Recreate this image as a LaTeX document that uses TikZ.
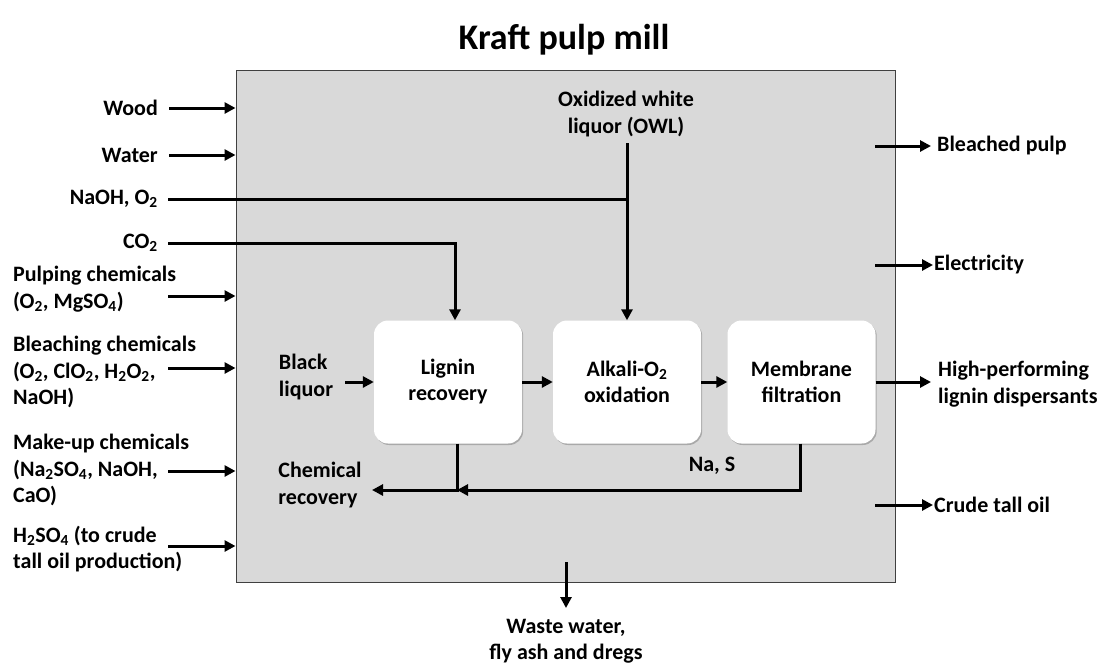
\documentclass[tikz,border=0pt]{standalone}
\usepackage{fontspec}
\setmainfont{Carlito}
\usetikzlibrary{arrows.meta,shadows}
\newcommand{\chemsub}[1]{\textsubscript{#1}}

\begin{document}
\begin{tikzpicture}[x=1pt,y=-1pt,
  lbl/.style={font=\bfseries\fontsize{22}{26.5}\selectfont, inner sep=0pt, align=left},
  arr/.style={line width=3pt, -{Triangle[length=11pt,width=11pt]}},
  flow/.style={line width=3pt},
  unit/.style={fill=white, rounded corners=14pt, minimum width=148pt, minimum height=123pt,
               inner sep=0pt, align=center, font=\bfseries\fontsize{22}{26}\selectfont,
               drop shadow={shadow xshift=1.2pt, shadow yshift=-1.5pt, opacity=0.22, fill=black}},
]
\useasboundingbox (0,0) rectangle (1100,664);

% title and mill boundary
\node[font=\bfseries\fontsize{36}{42}\selectfont, inner sep=0pt] (title) at (564,40) {Kraft pulp mill};
\node[draw=black!75, line width=1pt, fill=gray!30, minimum width=659pt, minimum height=512pt,
      inner sep=0pt] (mill) at (565.5,326) {};

% process units
\node[unit] (lignin)   at (448,382) {Lignin\\recovery};
\node[unit] (alkali)   at (627,382) {Alkali-O\chemsub{2}\\oxidation};
\node[unit] (membrane) at (801.5,382) {Membrane\\filtration};

% inputs on the left
\node[lbl, anchor=east] (wood)  at (158,108) {Wood};
\node[lbl, anchor=east] (water) at (158,155) {Water};
\node[lbl, anchor=east] (naoh)  at (158,199) {NaOH, O\chemsub{2}};
\node[lbl, anchor=east] (co2)   at (158,243) {CO\chemsub{2}};
\node[lbl, anchor=west] (pulping) at (13,289) {Pulping chemicals\\(O\chemsub{2}, MgSO\chemsub{4})};
\node[lbl, anchor=west] (bleach)  at (13,372) {Bleaching chemicals\\(O\chemsub{2}, ClO\chemsub{2}, H\chemsub{2}O\chemsub{2},\\NaOH)};
\node[lbl, anchor=west] (makeup)  at (13,470) {Make-up chemicals\\(Na\chemsub{2}SO\chemsub{4}, NaOH,\\CaO)};
\node[lbl, anchor=west] (h2so4)   at (13,549) {H\chemsub{2}SO\chemsub{4} (to crude\\tall oil production)};

\coordinate (pulpingin) at (168,296);
\coordinate (bleachin)  at (168,368);
\coordinate (makeupin)  at (168,471);
\coordinate (h2so4in)   at (168,546);

\draw[arr] ([xshift=11pt]wood.east)  -- (wood.east -| mill.west);
\draw[arr] ([xshift=11pt]water.east) -- (water.east -| mill.west);
\draw[arr] (pulpingin) -- (pulpingin -| mill.west);
\draw[arr] (bleachin)  -- (bleachin -| mill.west);
\draw[arr] (makeupin)  -- (makeupin -| mill.west);
\draw[arr] (h2so4in)   -- (h2so4in -| mill.west);

% oxidized white liquor and oxygen feed to the oxidation step
\node[lbl, align=center] (owl) at (626,114) {Oxidized white\\liquor (OWL)};
\draw[arr] (alkali.north |- 0,143) -- (alkali.north);
\draw[flow] ([xshift=10pt]naoh.east) -- (naoh.east -| alkali.north);

% CO2 feed to lignin recovery
\coordinate (co2in) at ([xshift=7pt]lignin.north);
\draw[arr] ([xshift=10pt]co2.east) -| (co2in);

% black liquor feed
\node[lbl] (black) at (306,377) {Black\\liquor};
\draw[arr] (345,382) -- (lignin.west |- 0,382);

% main line
\draw[arr] (lignin) -- (alkali);
\draw[arr] (alkali) -- (membrane);

% outputs on the right
\node[lbl, anchor=west] (pulp)  at (937,146) {Bleached pulp};
\node[lbl, anchor=west] (elec)  at (934,265) {Electricity};
\node[lbl, anchor=west] (hp)    at (938,384) {High-performing\\lignin dispersants};
\node[lbl, anchor=west] (tall)  at (934,505) {Crude tall oil};
\draw[arr] (875,146) -- ([xshift=-6pt]pulp.west);
\draw[arr] (875,265) -- ([xshift=-1pt]elec.west);
\draw[arr] (membrane.east) -- (931,382);
\draw[arr] (875,505) -- ([xshift=-1pt]tall.west);

% returns to chemical recovery
\node[lbl] (chem) at (320,485) {Chemical\\recovery};
\node[lbl] (nas)  at (712,466) {Na, S};
\coordinate (junc) at (457,490);
\coordinate (chemin) at (372,490);
\draw[arr] ([xshift=-1.5pt]membrane.south) |- (junc);
\draw[arr] (junc |- lignin.south) -- (junc) -- (chemin);

% waste stream
\node[lbl, align=center] (waste) at (566,641) {Waste water,\\fly ash and dregs};
\draw[arr] (566,562) -- (566,608);
\end{tikzpicture}
\end{document}
